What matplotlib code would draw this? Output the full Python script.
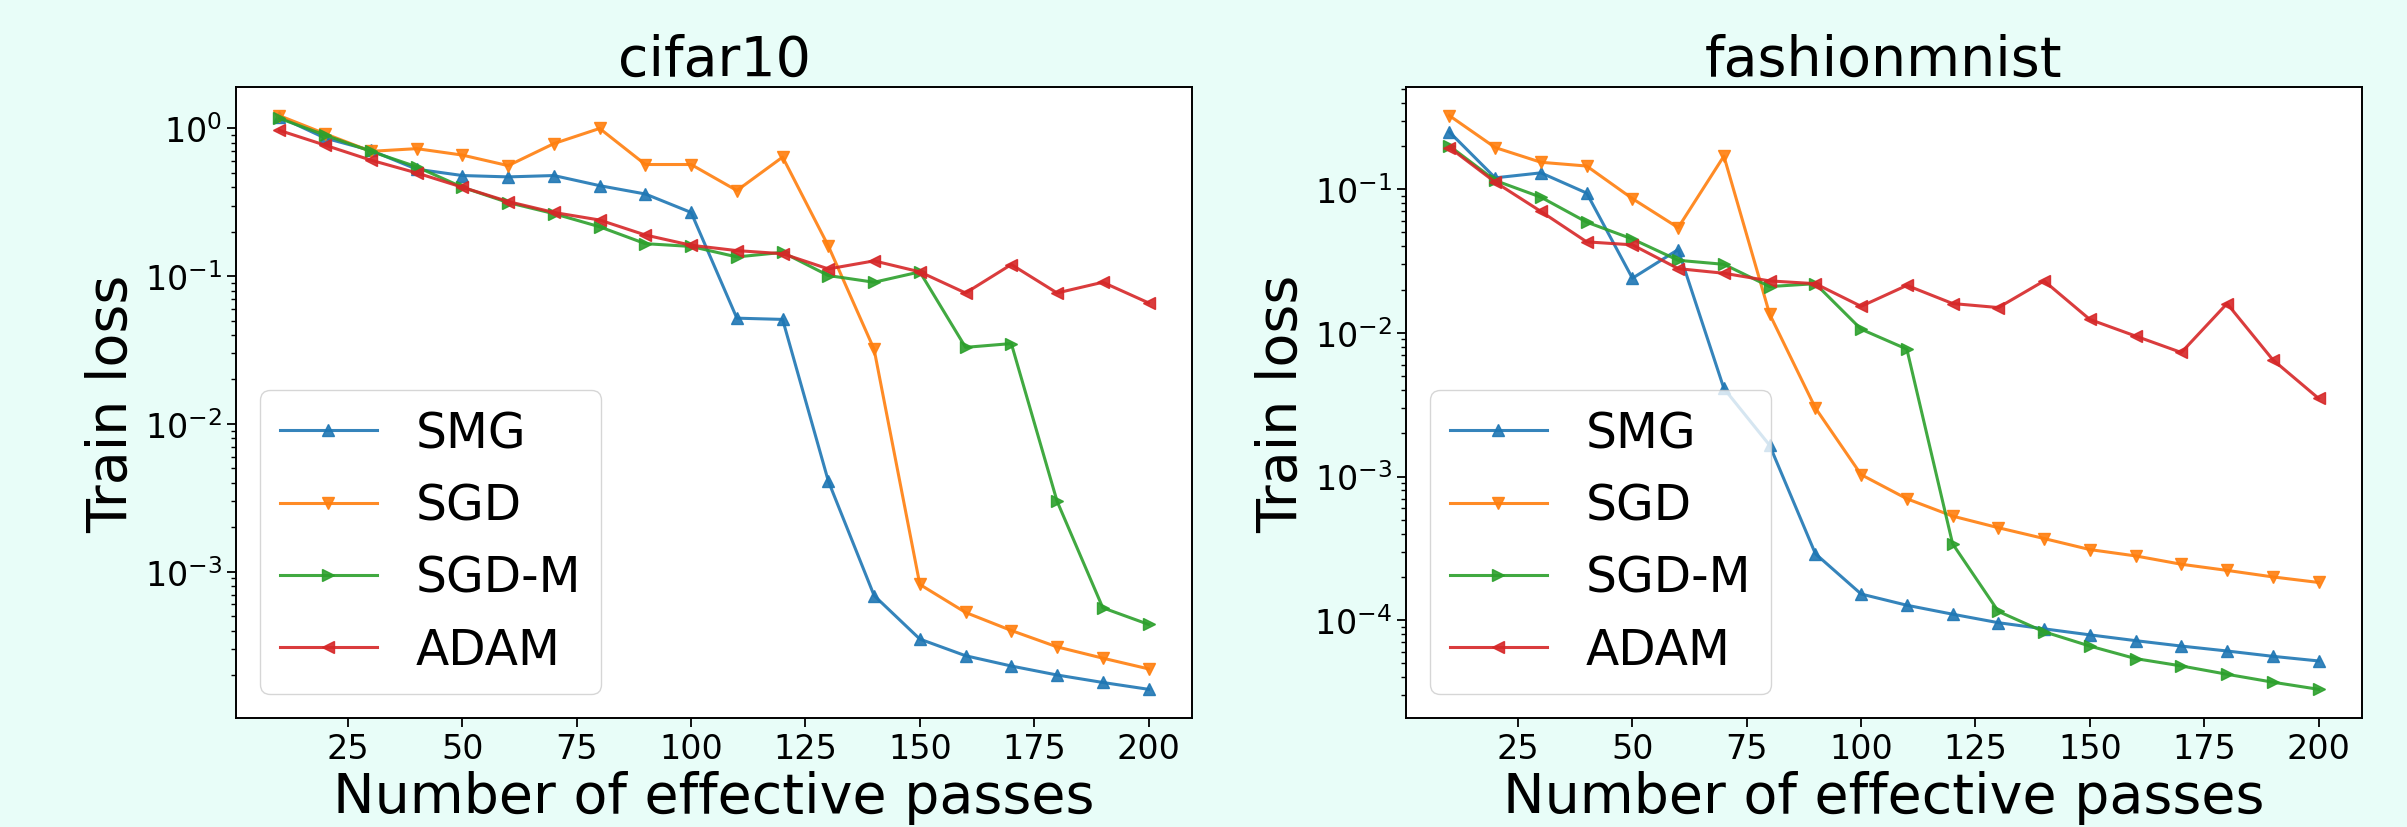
import numpy as np
import matplotlib
matplotlib.use("Agg")
import matplotlib.pyplot as plt

passes = [10, 20, 30, 40, 50, 60, 70, 80, 90, 100,
          110, 120, 130, 140, 150, 160, 170, 180, 190, 200]

methods = ["SMG", "SGD", "SGD-M", "ADAM"]
markers = ["^", "v", ">", "<"]
colors = ["#1f77b4", "#ff7f0e", "#2ca02c", "#d62728"]

# cifar10
cifar_smg = [1.2, 0.86, 0.71, 0.53, 0.48, 0.47, 0.48, 0.41, 0.36, 0.27,
             0.052, 0.051, 0.0041, 0.00069, 0.00035, 0.00027, 0.00023, 0.0002, 0.000178, 0.00016]
cifar_sgd = [1.22, 0.92, 0.70, 0.73, 0.66, 0.56, 0.79, 1.0, 0.57, 0.57,
             0.38, 0.64, 0.16, 0.032, 0.00082, 0.00053, 0.0004, 0.00031, 0.00026, 0.00022]
cifar_sgdm = [1.17, 0.90, 0.70, 0.55, 0.40, 0.315, 0.265, 0.216, 0.166, 0.159,
              0.135, 0.145, 0.101, 0.091, 0.107, 0.033, 0.035, 0.003, 0.00057, 0.00044]
cifar_adam = [0.97, 0.77, 0.61, 0.50, 0.40, 0.32, 0.27, 0.24, 0.19, 0.162,
              0.149, 0.142, 0.112, 0.127, 0.107, 0.077, 0.12, 0.077, 0.091, 0.066]

# fashionmnist
fm_smg = [0.25, 0.12, 0.13, 0.094, 0.024, 0.038, 0.0041, 0.00165, 0.00029, 0.000152,
          0.000127, 0.00011, 0.000096, 0.000087, 0.000079, 0.000072, 0.000066, 0.000061, 0.000056, 0.000052]
fm_sgd = [0.325, 0.195, 0.154, 0.145, 0.086, 0.054, 0.17, 0.0135, 0.003, 0.00103,
          0.0007, 0.00053, 0.00044, 0.00037, 0.00031, 0.00028, 0.000245, 0.000222, 0.0002, 0.000183]
fm_sgdm = [0.2, 0.115, 0.088, 0.059, 0.045, 0.032, 0.03, 0.021, 0.022, 0.0106,
           0.0077, 0.00034, 0.000115, 0.000083, 0.000066, 0.000054, 0.000048, 0.000042, 0.000037, 0.000033]
fm_adam = [0.195, 0.112, 0.07, 0.043, 0.041, 0.028, 0.026, 0.023, 0.022, 0.0153,
           0.0214, 0.016, 0.015, 0.023, 0.0124, 0.0095, 0.0073, 0.016, 0.0065, 0.0035]

datasets = ["cifar10", "fashionmnist"]
series = [[cifar_smg, cifar_sgd, cifar_sgdm, cifar_adam],
          [fm_smg, fm_sgd, fm_sgdm, fm_adam]]

bg = "#e8fdf8"
fig = plt.figure(figsize=(24.07, 8.28), dpi=100, facecolor=bg)
positions = [[236/2407, 109/828, 956/2407, 631/828],
             [1406/2407, 109/828, 956/2407, 631/828]]

for k, name in enumerate(datasets):
    ax = fig.add_axes(positions[k])
    ax.set_facecolor("white")
    for vals, lab, mk, c in zip(series[k], methods, markers, colors):
        ax.plot(passes, vals, marker=mk, color=c, label=lab, lw=2.2,
                markersize=9, alpha=0.9)
    ax.set_yscale("log")
    ax.set_xticks([25, 50, 75, 100, 125, 150, 175, 200])
    ax.tick_params(axis="both", which="major", labelsize=24, length=6.5, width=1.3)
    ax.tick_params(axis="both", which="minor", length=3.5, width=1.0)
    ax.set_title(name, fontsize=40)
    ax.set_xlabel("Number of effective passes", fontsize=40)
    ax.set_ylabel("Train loss", fontsize=40)
    for s in ax.spines.values():
        s.set_linewidth(1.4)
    ax.legend(loc="lower left", fontsize=35, handlelength=2.0)

fig.savefig("out.png", dpi=100, facecolor=bg)
